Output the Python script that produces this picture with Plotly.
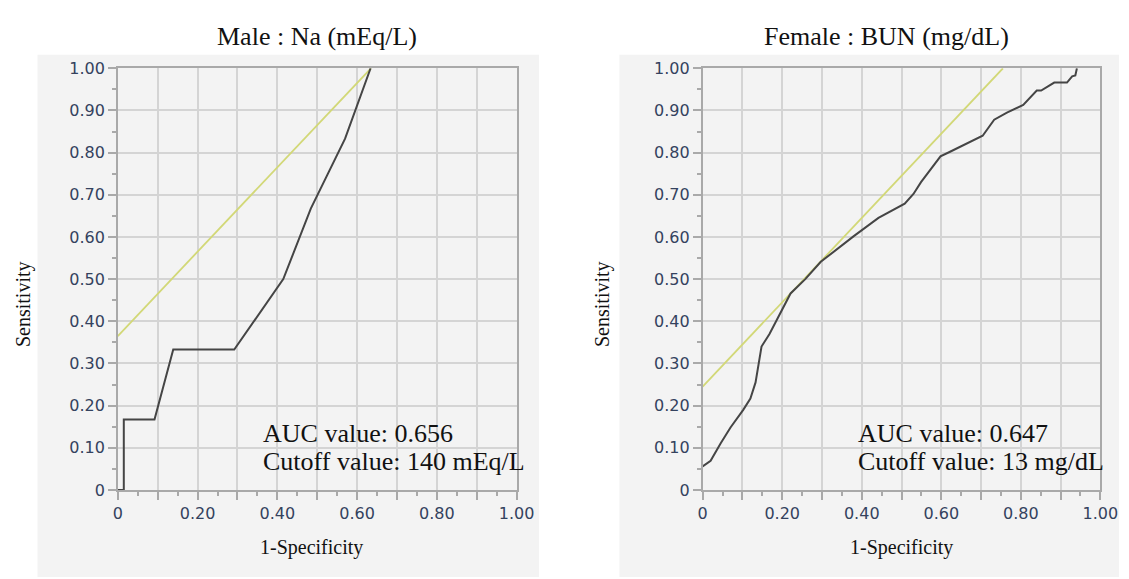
import plotly.graph_objects as go

# ---------------- data ----------------
male_fpr = [0, 0.015, 0.015, 0.092, 0.139, 0.292, 0.415, 0.484, 0.57, 0.634]
male_tpr = [0, 0, 0.167, 0.167, 0.333, 0.333, 0.5, 0.667, 0.833, 1.0]
male_tangent_x = [0, 0.635]
male_tangent_y = [0.365, 1.0]

female_fpr = [0, 0.02, 0.045, 0.07, 0.102, 0.12, 0.133, 0.148, 0.168, 0.193, 0.221,
              0.258, 0.297, 0.38, 0.442, 0.508, 0.53, 0.549, 0.598, 0.622, 0.704,
              0.733, 0.765, 0.806, 0.84, 0.851, 0.884, 0.916, 0.929, 0.937, 0.941, 0.941]
female_tpr = [0.056, 0.069, 0.11, 0.148, 0.19, 0.217, 0.255, 0.34, 0.37, 0.416, 0.466,
              0.5, 0.541, 0.602, 0.645, 0.679, 0.702, 0.73, 0.791, 0.802, 0.84,
              0.878, 0.895, 0.913, 0.947, 0.947, 0.966, 0.966, 0.981, 0.983, 0.996, 1.0]
female_tangent_x = [0, 0.755]
female_tangent_y = [0.245, 1.0]

tick_vals = [0, 0.1, 0.2, 0.3, 0.4, 0.5, 0.6, 0.7, 0.8, 0.9, 1.0]
x_tick_text = ["0", "", "0.20", "", "0.40", "", "0.60", "", "0.80", "", "1.00"]
y_tick_text = ["0", "0.10", "0.20", "0.30", "0.40", "0.50", "0.60", "0.70", "0.80", "0.90", "1.00"]

titles = ["Male : Na (mEq/L)", "Female : BUN (mg/dL)"]
auc_texts = ["AUC value: 0.656", "AUC value: 0.647"]
cutoff_texts = ["Cutoff value: 140 mEq/L", "Cutoff value: 13 mg/dL"]

# ---------------- style ----------------
W, H = 1129, 579
OFF = 8  # page body margin of the html page
ROC_COLOR = "#454545"
TAN_COLOR = "#d2d877"
GRID = "#d4d4d4"
AXLINE = "#a9a9a9"
TICKFONT = dict(family="DejaVu Sans", size=16, color="#34425e")
SERIF = "Liberation Serif"


def px_x(p):
    return (p - OFF) / W


def px_y(p):
    return 1 - (p - OFF) / H


fig = go.Figure()

fig.add_trace(go.Scatter(x=male_tangent_x, y=male_tangent_y, mode="lines",
                         line=dict(color=TAN_COLOR, width=1.8), xaxis="x", yaxis="y",
                         showlegend=False, cliponaxis=False))
fig.add_trace(go.Scatter(x=male_fpr, y=male_tpr, mode="lines",
                         line=dict(color=ROC_COLOR, width=2), xaxis="x", yaxis="y",
                         showlegend=False, cliponaxis=False))
fig.add_trace(go.Scatter(x=female_tangent_x, y=female_tangent_y, mode="lines",
                         line=dict(color=TAN_COLOR, width=1.8), xaxis="x2", yaxis="y2",
                         showlegend=False, cliponaxis=False))
fig.add_trace(go.Scatter(x=female_fpr, y=female_tpr, mode="lines",
                         line=dict(color=ROC_COLOR, width=2), xaxis="x2", yaxis="y2",
                         showlegend=False, cliponaxis=False))


def axis(domain, text, anchor):
    return dict(
        domain=domain, range=[0, 1], anchor=anchor,
        tickmode="array", tickvals=tick_vals, ticktext=text,
        showgrid=True, gridcolor=GRID, gridwidth=1.5,
        showline=True, linecolor=AXLINE, linewidth=1.5, mirror=True,
        ticks="outside", ticklen=8, tickwidth=1.5, tickcolor=AXLINE,
        minor=dict(tickmode="linear", tick0=0, dtick=0.05, ticks="outside",
                   ticklen=4, tickwidth=1.5, tickcolor=AXLINE, showgrid=False),
        tickfont=TICKFONT, zeroline=False, fixedrange=True,
    )


ydom = [px_y(497), px_y(61)]
fig.update_layout(
    width=W, height=H,
    margin=dict(l=0, r=0, t=0, b=0),
    paper_bgcolor="white", plot_bgcolor="white",
    xaxis=axis([px_x(115), px_x(522)], x_tick_text, "y"),
    yaxis=axis(ydom, y_tick_text, "x"),
    xaxis2=axis([px_x(712), px_x(1118)], x_tick_text, "y2"),
    yaxis2=axis(ydom, y_tick_text, "x2"),
    shapes=[
        dict(type="rect", xref="paper", yref="paper", x0=px_x(33), x1=px_x(545),
             y0=0, y1=px_y(47), fillcolor="#f3f3f3", line=dict(width=0), layer="below"),
        dict(type="rect", xref="paper", yref="paper", x0=px_x(627), x1=1,
             y0=0, y1=px_y(47), fillcolor="#f3f3f3", line=dict(width=0), layer="below"),
    ],
)

ann = []
centers = [(318, 18, 313), (900, 609, 915)]
for i, (tx, sx, bx) in enumerate(centers):
    ann.append(dict(text=titles[i], xref="paper", yref="paper", x=px_x(tx), y=px_y(28),
                    showarrow=False, xanchor="center", yanchor="middle",
                    font=dict(family=SERIF, size=26, color="#111111")))
    ann.append(dict(text="Sensitivity", xref="paper", yref="paper", x=px_x(sx), y=px_y(305),
                    showarrow=False, xanchor="center", yanchor="middle", textangle=-90,
                    font=dict(family=SERIF, size=20, color="#111111")))
    ann.append(dict(text="1-Specificity", xref="paper", yref="paper", x=px_x(bx), y=px_y(557),
                    showarrow=False, xanchor="center", yanchor="middle",
                    font=dict(family=SERIF, size=20, color="#111111")))

ann_x = [0.358, 0.385]
for i, xr in enumerate(["x", "x2"]):
    yr = "y" if i == 0 else "y2"
    ann.append(dict(text=auc_texts[i], xref=xr, yref=yr, x=ann_x[i], y=0.135,
                    showarrow=False, xanchor="left", yanchor="middle",
                    font=dict(family=SERIF, size=26, color="#111111")))
    ann.append(dict(text=cutoff_texts[i], xref=xr, yref=yr, x=ann_x[i], y=0.068,
                    showarrow=False, xanchor="left", yanchor="middle",
                    font=dict(family=SERIF, size=26, color="#111111")))

fig.update_layout(annotations=ann)

fig.write_html("out.html")
